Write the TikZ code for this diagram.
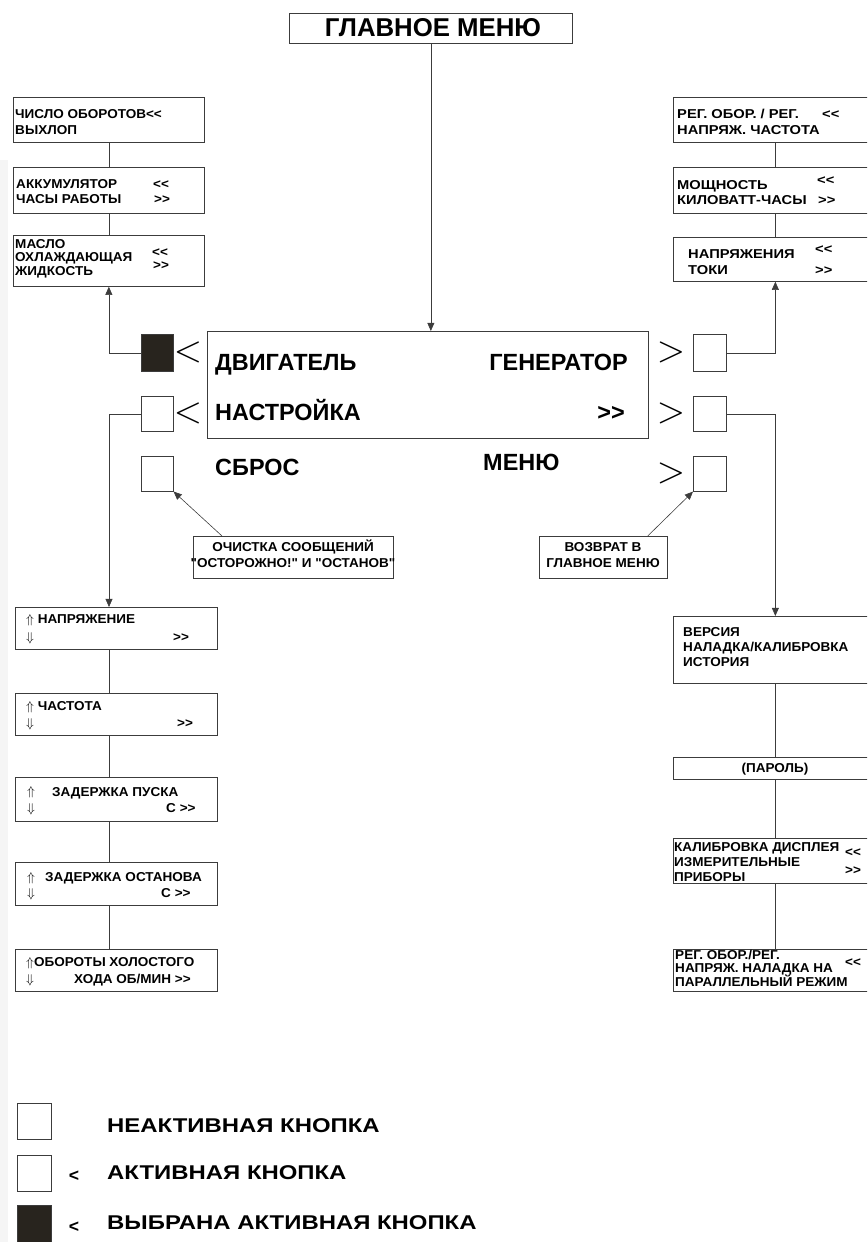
\documentclass[tikz,border=0pt]{standalone}
\usepackage{fontspec}
\setmainfont{Liberation Sans}
\newfontfamily\boxfont{Liberation Sans}[FakeStretch=1.05]
\newfontfamily\wideboxfont{Liberation Sans}[FakeStretch=1.14]
\newfontfamily\legfont{Liberation Sans}[FakeStretch=1.2]
\usetikzlibrary{arrows.meta}
\definecolor{selfill}{RGB}{40,36,30}
\definecolor{linegray}{RGB}{60,60,60}
\newcommand\dlt{<\kern0pt<}
\newcommand\dgt{>\kern0pt>}

\begin{document}
\begin{tikzpicture}[x=0.3mm,y=-0.3mm,
  menubox/.style 2 args={draw=linegray,line width=0.6pt,inner sep=0pt,anchor=north west,minimum width=#1*0.3mm,minimum height=#2*0.3mm},
  btn/.style 2 args={draw=linegray,line width=0.5pt,inner sep=0pt,anchor=north west,minimum width=#1*0.3mm,minimum height=#2*0.3mm},
  btnsel/.style 2 args={btn={#1}{#2},fill=selfill},
  txt/.style={font=\fontsize{11}{13}\selectfont\boxfont\bfseries,inner sep=0pt,text height=8pt,text depth=0pt,anchor=west},
  wtxt/.style={txt,font=\fontsize{11}{13}\selectfont\wideboxfont\bfseries},
  ctxt/.style={txt,anchor=center},
  disptxt/.style={font=\fontsize{20}{24}\selectfont\bfseries,inner sep=0pt,text height=14.3pt,text depth=0pt,anchor=west},
  legtxt/.style={font=\fontsize{17}{20}\selectfont\legfont\bfseries,inner sep=0pt,text height=12.2pt,text depth=0pt,anchor=west},
  pointer/.style={inner sep=0pt,font=\fontsize{10}{10}\selectfont},
  conn/.style={draw=linegray,line width=0.5pt},
  arr/.style={conn,-{Triangle[width=6pt,length=7pt]}}
]

%% - Page frame
%% - --------------------------------------
\useasboundingbox (0,0) rectangle (867,1242);
\clip (0,0) rectangle (867,1242);
\fill[black!4] (0,160) rectangle (8,1242);

%% - Main menu and display
%% - --------------------------------------
\node[menubox={283}{30}] (title) at (289,13) {};
\node[font=\fontsize{22}{24}\selectfont\bfseries,inner sep=0pt] (titletxt) at (433,28) {ГЛАВНОЕ МЕНЮ};
\node[menubox={441}{107}] (disp) at (207,331) {};

\node[disptxt] (engtxt) at (215,362) {ДВИГАТЕЛЬ};
\node[disptxt] (settxt) at (215,412) {НАСТРОЙКА};
\node[disptxt,anchor=east] (gentxt) at (628,362) {ГЕНЕРАТОР};
\node[disptxt,anchor=east] (moretxt) at (625,412) {\dgt};
\node[disptxt] (rsttxt) at (215,467) {СБРОС};
\node[disptxt] (mnutxt) at (483,462) {МЕНЮ};

%% - Buttons
%% - --------------------------------------
\node[btnsel={32}{37}] (engbtn) at (141,334) {};
\node[btn={32}{35}] (setbtn) at (141,396) {};
\node[btn={32}{35}] (rstbtn) at (141,456) {};
\node[btn={33}{37}] (genbtn) at (693,334) {};
\node[btn={33}{35}] (morebtn) at (693,396) {};
\node[btn={33}{35}] (mnubtn) at (693,456) {};

\node[pointer] (engptr) at (188,352) {\scalebox{3.1}{$<$}};
\node[pointer] (setptr) at (188,413) {\scalebox{3.1}{$<$}};
\node[pointer] (genptr) at (671,352) {\scalebox{3.1}{$>$}};
\node[pointer] (moreptr) at (671,413) {\scalebox{3.1}{$>$}};
\node[pointer] (mnuptr) at (671,473) {\scalebox{3.1}{$>$}};

%% - Engine menu
%% - --------------------------------------
\node[menubox={191}{45}] (rpm) at (13,97) {};
\node[txt] (rpm1) at (15,114) {ЧИСЛО ОБОРОТОВ\dlt};
\node[txt] (rpm2) at (15,130) {ВЫХЛОП};

\node[menubox={191}{46}] (batt) at (13,167) {};
\node[txt] (batt1) at (16,184) {АККУМУЛЯТОР};
\node[txt] (batt2) at (16,199) {ЧАСЫ РАБОТЫ};
\node[txt] (battl) at (153,184) {\dlt};
\node[txt] (battr) at (154,199) {\dgt};

\node[menubox={191}{51}] (oil) at (13,235) {};
\node[txt] (oil1) at (15,244) {МАСЛО};
\node[txt] (oil2) at (15,257) {ОХЛАЖДАЮЩАЯ};
\node[txt] (oil3) at (15,271) {ЖИДКОСТЬ};
\node[txt] (oill) at (152,252) {\dlt};
\node[txt] (oilr) at (153,265) {\dgt};

%% - Generator menu
%% - --------------------------------------
\node[menubox={204}{45}] (spd) at (673,97) {};
\node[wtxt] (spd1) at (677,114) {РЕГ. ОБОР. / РЕГ.};
\node[wtxt] (spd2) at (677,130) {НАПРЯЖ. ЧАСТОТА};
\node[wtxt] (spdl) at (822,114) {\dlt};

\node[menubox={204}{46}] (pwr) at (673,167) {};
\node[wtxt] (pwr1) at (677,185) {МОЩНОСТЬ};
\node[wtxt] (pwr2) at (677,200) {КИЛОВАТТ-ЧАСЫ};
\node[wtxt] (pwrl) at (817,180) {\dlt};
\node[wtxt] (pwrr) at (818,200) {\dgt};

\node[menubox={204}{44}] (amps) at (673,237) {};
\node[wtxt] (amps1) at (688,254) {НАПРЯЖЕНИЯ};
\node[wtxt] (amps2) at (688,270) {ТОКИ};
\node[wtxt] (ampsl) at (815,249) {\dlt};
\node[wtxt] (ampsr) at (815,270) {\dgt};

%% - Setup menu
%% - --------------------------------------
\coordinate (lx) at (109,0);

\node[menubox={202}{42}] (volt) at (15,607) {};
\node[txt] (volt1) at (26,619) {$\Uparrow$ НАПРЯЖЕНИЕ};
\node[txt] (volt2) at (26,637) {$\Downarrow$};
\node[txt] (voltr) at (173,637) {\dgt};

\node[menubox={202}{42}] (freq) at (15,693) {};
\node[txt] (freq1) at (26,706) {$\Uparrow$ ЧАСТОТА};
\node[txt] (freq2) at (26,723) {$\Downarrow$};
\node[txt] (freqr) at (177,723) {\dgt};

\node[menubox={202}{44}] (sdel) at (15,777) {};
\node[txt] (sdelu) at (27,791) {$\Uparrow$};
\node[txt] (sdel1) at (52,792) {ЗАДЕРЖКА ПУСКА};
\node[txt] (sdel2) at (27,808) {$\Downarrow$};
\node[txt] (sdelr) at (166,808) {С \dgt};

\node[menubox={202}{43}] (stdel) at (15,862) {};
\node[txt] (stdelu) at (27,877) {$\Uparrow$};
\node[txt] (stdel1) at (45,877) {ЗАДЕРЖКА ОСТАНОВА};
\node[txt] (stdel2) at (27,893) {$\Downarrow$};
\node[txt] (stdelr) at (161,893) {С \dgt};

\node[menubox={202}{42}] (idle) at (15,949) {};
\node[txt] (idle1) at (26,962) {$\Uparrow$ОБОРОТЫ ХОЛОСТОГО};
\node[txt] (idle2) at (26,979) {$\Downarrow$};
\node[txt] (idler) at (74,979) {ХОДА ОБ/МИН \dgt};

%% - Service menu
%% - --------------------------------------
\node[menubox={204}{67}] (ver) at (673,616) {};
\node[txt] (ver1) at (683,632) {ВЕРСИЯ};
\node[txt] (ver2) at (683,647) {НАЛАДКА/КАЛИБРОВКА};
\node[txt] (ver3) at (683,662) {ИСТОРИЯ};

\node[menubox={204}{22}] (pwd) at (673,757) {};
\node[ctxt] (pwd1) at (775,768) {(ПАРОЛЬ)};

\node[menubox={204}{45}] (cal) at (673,838) {};
\node[txt] (cal1) at (674,847) {КАЛИБРОВКА ДИСПЛЕЯ};
\node[txt] (cal2) at (674,862) {ИЗМЕРИТЕЛЬНЫЕ};
\node[txt] (cal3) at (674,877) {ПРИБОРЫ};
\node[txt] (call) at (845,852) {\dlt};
\node[txt] (calr) at (845,870) {\dgt};

\node[menubox={204}{42}] (par) at (673,949) {};
\node[txt] (par1) at (675,955) {РЕГ. ОБОР./РЕГ.};
\node[txt] (par2) at (675,968) {НАПРЯЖ. НАЛАДКА НА};
\node[txt] (par3) at (675,982) {ПАРАЛЛЕЛЬНЫЙ РЕЖИМ};
\node[txt] (parl) at (845,962) {\dlt};

%% - Callouts
%% - --------------------------------------
\node[menubox={200}{42}] (clr) at (193,536) {};
\node[ctxt] (clr1) at (293,547) {ОЧИСТКА СООБЩЕНИЙ};
\node[ctxt] (clr2) at (293,563) {"ОСТОРОЖНО!" И "ОСТАНОВ"};

\node[menubox={128}{42}] (ret) at (539,536) {};
\node[ctxt] (ret1) at (603,547) {ВОЗВРАТ В};
\node[ctxt] (ret2) at (603,563) {ГЛАВНОЕ МЕНЮ};

%% - Connectors
%% - --------------------------------------
\draw[arr] (title.south) -- (title.south |- disp.north);
\draw[conn] (rpm) -- (batt);
\draw[conn] (batt) -- (oil);
\draw[conn] (spd) -- (pwr);
\draw[conn] (pwr) -- (amps);
\draw[conn] (volt.south -| lx) -- (freq.north -| lx);
\draw[conn] (freq.south -| lx) -- (sdel.north -| lx);
\draw[conn] (sdel.south -| lx) -- (stdel.north -| lx);
\draw[conn] (stdel.south -| lx) -- (idle.north -| lx);
\draw[conn] (ver) -- (pwd);
\draw[conn] (pwd) -- (cal);
\draw[conn] (cal) -- (par);

\draw[arr] (engbtn.west) -| (oil.south);
\draw[arr] (setbtn.west) -| (volt.north -| lx);
\draw[arr] (genbtn.east) -| (amps.south);
\draw[arr] (morebtn.east) -| (ver.north);
\draw[arr] ([xshift=8.7mm]clr.north west) -- (rstbtn.south east);
\draw[arr] ([xshift=-6mm]ret.north east) -- (mnubtn.south west);

%% - Legend
%% - --------------------------------------
\node[btn={34}{36}] (legoff) at (17,1103) {};
\node[btn={34}{36}] (legon) at (17,1155) {};
\node[btnsel={34}{37}] (legsel) at (17,1205) {};
\node[legtxt] (legofftxt) at (107,1125) {НЕАКТИВНАЯ КНОПКА};
\node[legtxt,anchor=center,font=\fontsize{15}{18}\selectfont\bfseries] (legonptr) at (74,1174) {<};
\node[legtxt] (legontxt) at (107,1172) {АКТИВНАЯ КНОПКА};
\node[legtxt,anchor=center,font=\fontsize{15}{18}\selectfont\bfseries] (legselptr) at (74,1225) {<};
\node[legtxt] (legseltxt) at (107,1222) {ВЫБРАНА АКТИВНАЯ КНОПКА};

\end{tikzpicture}
\end{document}
